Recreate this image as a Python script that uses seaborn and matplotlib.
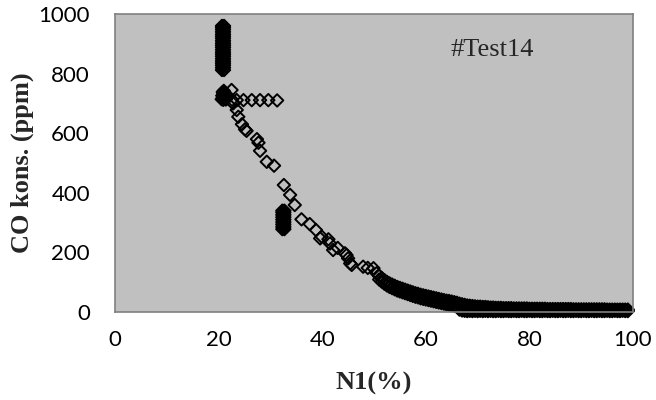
import matplotlib
matplotlib.use("Agg")
import matplotlib.pyplot as plt
import seaborn as sns
import pandas as pd

# ---- data ----
# vertical stack of readings at N1 ~ 20.8 %
bar_x = [20.65, 21.05]
bar_y = [812, 820, 828, 835, 842, 850, 858, 865, 872, 880, 888, 895, 902,
         910, 918, 925, 932, 940, 948, 955, 960]

# dense blob near (21, 725)
blob_x = [20.6, 20.8, 21.0, 21.2, 21.4, 20.7, 20.9, 21.1, 21.3, 21.5, 20.8, 21.0, 21.2, 20.9, 21.1]
blob_y = [714, 718, 722, 716, 713, 726, 732, 735, 728, 720, 738, 742, 736, 712, 727]

# horizontal row at ~711 ppm
row_x = [22.6, 23.5, 24.8, 26.4, 28.0, 29.6, 31.3]
row_y = [712, 711, 711, 711, 711, 711, 710]

# vertical stack at N1 ~ 32.5 %
stack_x = [32.3, 32.7]
stack_y = [278, 286, 294, 302, 310, 318, 326, 334, 340]

# individual points of the decaying curve
curve_x = [22.5, 22.8, 23.5, 23.8, 24.5, 25.1, 25.4, 27.4, 27.7, 28.0, 29.3, 30.7,
           32.6, 33.8, 34.7, 36.0, 37.6, 38.8, 39.6, 39.9, 41.2, 41.5, 42.1, 43.0,
           44.4, 44.7, 45.0, 45.4, 45.7, 47.9, 48.8, 49.9, 50.5]
curve_y = [745, 700, 678, 655, 630, 613, 608, 580, 568, 541, 504, 491,
           426, 393, 359, 311, 295, 275, 247, 253, 244, 230, 208, 215,
           197, 191, 180, 163, 158, 152, 148, 147, 130]

# dense tail (upper and lower edge of the band of points)
band_x = [51.0, 51.5, 52.0, 52.5, 53.0, 53.5, 54.0, 54.5, 55.0, 55.5, 56.0, 56.5,
          57.0, 57.5, 58.0, 58.5, 59.0, 59.5, 60.0, 60.5, 61.0, 61.5, 62.0, 62.5,
          63.0, 63.5, 64.0, 64.5, 65.0, 65.5, 66.0, 66.5, 67.0, 67.5, 68.0, 68.5,
          69.0, 69.5, 70.0, 70.5, 71.0, 71.5, 72.0, 72.5, 73.0, 73.5, 74.0, 74.5,
          75.0, 75.5, 76.0, 76.5, 77.0, 77.5, 78.0, 78.5, 79.0, 79.5, 80.0, 80.5,
          81.0, 81.5, 82.0, 82.5, 83.0, 83.5, 84.0, 84.5, 85.0, 85.5, 86.0, 86.5,
          87.0, 87.5, 88.0, 88.5, 89.0, 89.5, 90.0, 90.5, 91.0, 91.5, 92.0, 92.5,
          93.0, 93.5, 94.0, 94.5, 95.0, 95.5, 96.0, 96.5, 97.0, 97.5, 98.0, 98.5, 99.0]
band_hi = [121, 114, 107, 101, 96, 92, 88, 84, 81, 78, 75, 72,
           69, 66, 63, 61, 58, 56, 54, 52, 50, 48, 46, 44,
           42, 40, 38, 37, 35, 33, 31, 28, 26, 24, 22, 21,
           20, 19, 18, 18, 17, 17, 16, 15, 15, 14, 14, 14,
           13, 13, 13, 13, 12, 12, 12, 12, 12, 12, 11, 11,
           11, 11, 11, 11, 11, 10, 10, 10, 10, 10, 10, 10,
           10, 10, 10, 9, 9, 9, 9, 9, 9, 9, 9, 9,
           9, 9, 9, 9, 8, 8, 8, 8, 8, 8, 8, 8, 8]
band_lo = [109, 102, 95, 89, 84, 80, 76, 72, 69, 66, 63, 60,
           57, 54, 51, 49, 46, 44, 42, 40, 38, 36, 34, 32,
           30, 28, 26, 25, 23, 21, 19, 8, 5, 4, 3, 4,
           3, 4, 3, 4, 3, 4, 3, 4, 3, 3, 4, 3,
           3, 4, 3, 3, 4, 3, 3, 4, 3, 3, 4, 3,
           3, 4, 3, 3, 4, 3, 3, 4, 3, 3, 4, 3,
           3, 4, 3, 3, 4, 3, 3, 4, 3, 3, 4, 3,
           3, 4, 3, 3, 4, 3, 3, 4, 3, 3, 4, 3, 3]

x_ticks = [0, 20, 40, 60, 80, 100]
y_ticks = [0, 200, 400, 600, 800, 1000]
x_label = "N1(%)"
y_label = "CO kons. (ppm)"
annotation = "#Test14"

# ---- assemble ----
xs, ys = [], []
for bx in bar_x:
    xs += [bx] * len(bar_y)
    ys += bar_y
xs += blob_x; ys += blob_y
xs += row_x; ys += row_y
for sx in stack_x:
    xs += [sx] * len(stack_y)
    ys += stack_y
xs += curve_x; ys += curve_y
xs += band_x; ys += band_hi
xs += band_x; ys += band_lo
df = pd.DataFrame({"N1": xs, "CO": ys})

sns.set_theme(style="white")
plt.rcParams["font.family"] = ["Lato", "DejaVu Sans"]

fig = plt.figure(figsize=(6.56, 4.0), dpi=100)
ax = fig.add_axes([115 / 656, 88 / 400, 518 / 656, 298 / 400])
ax.set_facecolor("#C0C0C0")

sns.scatterplot(data=df, x="N1", y="CO", ax=ax, marker="D", s=40,
                facecolors="none", edgecolor="black", linewidth=1.4, legend=False)
for coll in ax.collections:
    coll.set_facecolor("none")
    coll.set_edgecolor("black")
    coll.set_clip_on(False)

ax.set_xlim(0, 100)
ax.set_ylim(0, 1000)
ax.set_xticks(x_ticks)
ax.set_yticks(y_ticks)
ax.tick_params(axis="both", length=0, labelsize=16, colors="black")
ax.tick_params(axis="x", pad=13)
ax.tick_params(axis="y", pad=18)

for sp in ax.spines.values():
    sp.set_visible(True)
    sp.set_color("#808080")
    sp.set_linewidth(1.2)

serif = ["Liberation Serif", "DejaVu Serif"]
ax.set_xlabel(x_label, fontsize=19, fontweight="bold", family=serif, labelpad=16)
ax.set_ylabel(y_label, fontsize=19, fontweight="bold", family=serif, labelpad=3)
ax.text(64.7, 860, annotation, fontsize=19, family=serif, ha="left", va="baseline")

fig.savefig("out.png", dpi=100)
